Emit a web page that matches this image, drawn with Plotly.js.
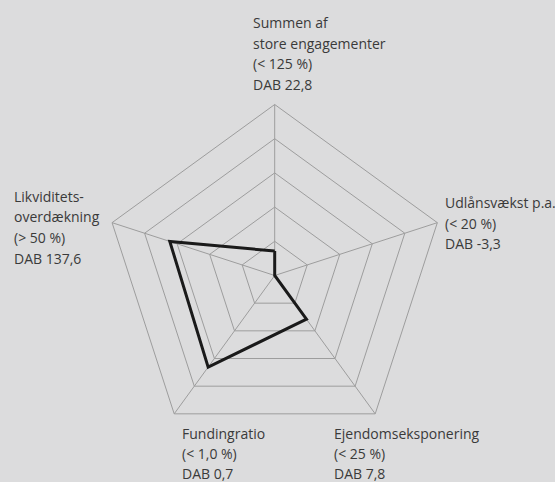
<!DOCTYPE html>
<html>
<head>
<meta charset="utf-8">
<script src="https://cdn.plot.ly/plotly-3.0.1.min.js"></script>
<style>html,body{margin:0;padding:0;background:#dcdcdd;}#chart{width:555px;height:482px;}</style>
</head>
<body>
<div id="chart"></div>
<script>
// Axes (categories), clockwise from top
const categories = ["Summen af store engagementer", "Udlånsvækst p.a.", "Ejendomseksponering", "Fundingratio", "Likviditetsoverdækning"];
// Position of the bank on each axis, as share (%) of the outer ring
const values = [14.3, 0, 31.6, 66.2, 64.5];
// Label text lines for each axis
const labelSummen = ["Summen af", "store engagementer", "(< 125 %)", "DAB 22,8"];
const labelUdlaan = ["Udlånsvækst p.a.", "(< 20 %)", "DAB -3,3"];
const labelEjendom = ["Ejendomseksponering", "(< 25 %)", "DAB 7,8"];
const labelFunding = ["Fundingratio", "(< 1,0 %)", "DAB 0,7"];
const labelLikvid = ["Likviditets-", "overdækning", "(> 50 %)", "DAB 137,6"];

const W = 555, H = 482;
const textColor = "#3a3a3a";
const fontFam = "'Open Sans', 'Noto Sans', sans-serif";

function lineAnnots(lines, xPx, yTopPx, step) {
  return lines.map((t, i) => ({
    text: t, xref: "paper", yref: "paper",
    x: xPx / W, y: 1 - (yTopPx + i * step) / H,
    xanchor: "left", yanchor: "middle", showarrow: false,
    font: {family: fontFam, size: 14, color: textColor}
  }));
}

const annotations = [].concat(
  lineAnnots(labelSummen, 251, 22.5, 20.5),
  lineAnnots(labelUdlaan, 443, 202.5, 20.5),
  lineAnnots(labelEjendom, 332, 433, 20),
  lineAnnots(labelFunding, 180, 433, 20),
  lineAnnots(labelLikvid, 12, 196.5, 20.5)
);

const cx = 274.7, cy = 275.5, R = 171;
const trace = {
  type: "scatterpolar",
  r: values.concat([values[0]]),
  theta: categories.concat([categories[0]]),
  mode: "lines",
  line: {color: "#1a1a1a", width: 3},
  hoverinfo: "skip"
};

const layout = {
  width: W, height: H,
  margin: {l: 0, r: 0, t: 0, b: 0},
  paper_bgcolor: "#dcdcdd",
  plot_bgcolor: "#dcdcdd",
  showlegend: false,
  annotations: annotations,
  polar: {
    domain: {x: [(cx - R) / W, (cx + R) / W], y: [(H - cy - R) / H, (H - cy + R) / H]},
    bgcolor: "#dcdcdd",
    gridshape: "linear",
    radialaxis: {range: [0, 100], dtick: 20, tick0: 0, showticklabels: false, ticks: "", showline: false, gridcolor: "#9d9d9d", gridwidth: 1},
    angularaxis: {direction: "clockwise", rotation: 90, showticklabels: false, ticks: "", showline: true, linecolor: "#9d9d9d", linewidth: 1, gridcolor: "#9d9d9d", gridwidth: 1}
  }
};

Plotly.newPlot("chart", [trace], layout, {displayModeBar: false, staticPlot: true});
</script>
</body>
</html>
